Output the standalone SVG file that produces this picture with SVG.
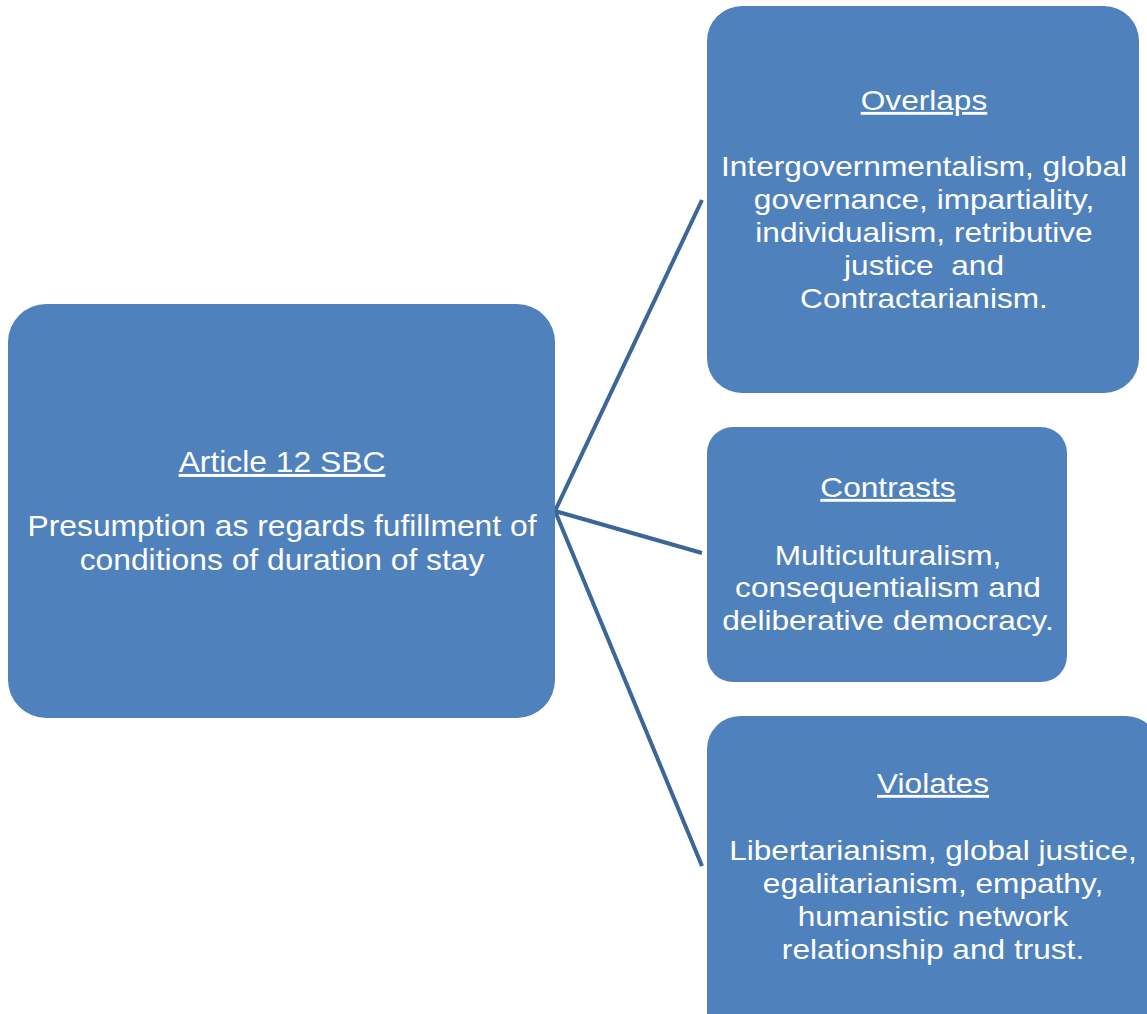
<svg xmlns="http://www.w3.org/2000/svg" width="1147" height="1014" viewBox="0 0 1147 1014">
  <style>
    .box { fill: #4F81BD; }
    .link { stroke: #3B6697; stroke-width: 4; fill: none; stroke-linecap: butt; }
    .lbl { font-family: "Liberation Sans", Arial, sans-serif; fill: #FFFFFF; text-anchor: middle; }
    .big { font-size: 30px; }
    .mid { font-size: 28.5px; }
    .head { text-decoration: underline; }
  </style>
  <rect width="1147" height="1014" fill="#FFFFFF"/>

  <!-- connectors from the central box to the three outcome boxes -->
  <g id="connectors">
    <line class="link" x1="555" y1="511" x2="702" y2="200"/>
    <line class="link" x1="555" y1="511" x2="702" y2="553"/>
    <line class="link" x1="555" y1="511" x2="702" y2="866"/>
  </g>

  <g id="article12">
    <rect class="box" x="8" y="304" width="547" height="414" rx="38" ry="38"/>
    <g transform="translate(282 0) scale(1.06 1)">
      <text class="lbl big head" x="0" y="472">Article 12 SBC</text>
      <text class="lbl big" x="0" y="536">Presumption as regards fufillment of</text>
      <text class="lbl big" x="0" y="570">conditions of duration of stay</text>
    </g>
  </g>

  <g id="overlaps">
    <rect class="box" x="707" y="6" width="432" height="387" rx="35" ry="35"/>
    <g transform="translate(924 0) scale(1.11 1)">
      <text class="lbl mid head" x="0" y="110">Overlaps</text>
      <text class="lbl mid" x="0" y="176">Intergovernmentalism, global</text>
      <text class="lbl mid" x="0" y="209">governance, impartiality,</text>
      <text class="lbl mid" x="0" y="242">individualism, retributive</text>
      <text class="lbl mid" x="0" y="275" xml:space="preserve">justice  and</text>
      <text class="lbl mid" x="0" y="308">Contractarianism.</text>
    </g>
  </g>

  <g id="contrasts">
    <rect class="box" x="707" y="427" width="360" height="255" rx="26" ry="26"/>
    <g transform="translate(888 0) scale(1.11 1)">
      <text class="lbl mid head" x="0" y="497">Contrasts</text>
      <text class="lbl mid" x="0" y="565">Multiculturalism,</text>
      <text class="lbl mid" x="0" y="597">consequentialism and</text>
      <text class="lbl mid" x="0" y="630">deliberative democracy.</text>
    </g>
  </g>

  <g id="violates">
    <rect class="box" x="707" y="716" width="452" height="340" rx="33" ry="33"/>
    <g transform="translate(933 0) scale(1.11 1)">
      <text class="lbl mid head" x="0" y="793">Violates</text>
      <text class="lbl mid" x="0" y="860">Libertarianism, global justice,</text>
      <text class="lbl mid" x="0" y="893">egalitarianism, empathy,</text>
      <text class="lbl mid" x="0" y="926">humanistic network</text>
      <text class="lbl mid" x="0" y="959">relationship and trust.</text>
    </g>
  </g>
</svg>
